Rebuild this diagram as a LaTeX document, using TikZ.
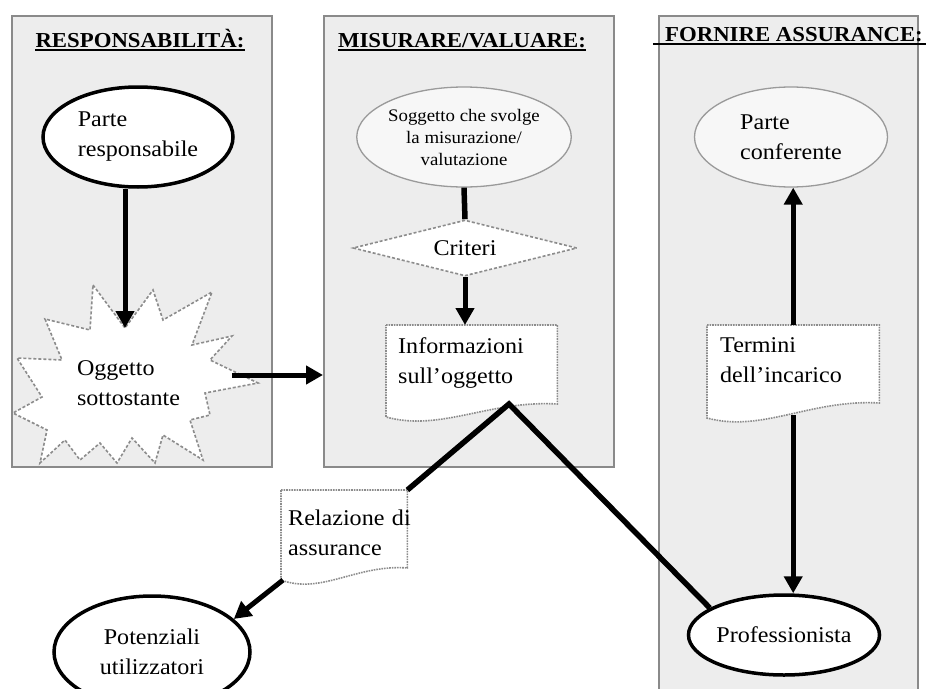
\documentclass[tikz,border=0pt]{standalone}
\usepackage{fontspec}
\setmainfont{Liberation Serif}[FakeStretch=1.07]
\usetikzlibrary{shapes.geometric,arrows.meta,calc}
\pgfdeclarelayer{panel}
\pgfdeclarelayer{under}
\pgfsetlayers{panel,under,main}
\definecolor{panelfill}{HTML}{EDEDED}
\definecolor{panelgray}{HTML}{8A8A8A}
\definecolor{ellgray}{HTML}{9A9A9A}
\definecolor{ellfill}{HTML}{F7F7F7}
\definecolor{dotgray}{HTML}{8C8C8C}
\newcommand{\docoutline}[4]{%
  \path[docline] (#1.north west) -- (#1.north east) -- ($(#1.north east)+(0,#4)$)
   .. controls ($(#1.north east)+(-0.4*#2,#4-4)$) and ($(#1.north west)+(0.32*#2,#3+15)$) .. ($(#1.north west)+(0,#3)$) -- cycle;}
\begin{document}
\begin{tikzpicture}[x=1pt,y=-1pt,
  panelbox/.style={rectangle, draw=panelgray, line width=1.6pt, fill=panelfill, inner sep=0pt, anchor=north west},
  title/.style={font=\fontsize{21.3}{24}\selectfont\bfseries, inner sep=0pt, anchor=base},
  ul/.style={line width=1.6pt},
  txt/.style={font=\fontsize{22.5}{30}\selectfont},
  blackell/.style={ellipse, draw=black, line width=3.5pt, fill=white, inner sep=0pt, txt, align=left},
  grayell/.style={ellipse, draw=ellgray, line width=1.3pt, fill=ellfill, inner sep=0pt},
  docnode/.style={txt, anchor=north west, align=left},
  docline/.style={draw=dotgray, line width=1.6pt, densely dotted, fill=white},
  starline/.style={draw=dotgray, line width=1.6pt, dash pattern=on 3pt off 2pt, fill=white},
  arr/.style={line width=5pt, -{Triangle[length=17pt,width=18pt]}},
  bar/.style={line width=5.5pt}
]
\useasboundingbox (0,0) rectangle (926,688);
% panels
\begin{pgfonlayer}{panel}
\node[panelbox, minimum width=260pt, minimum height=451pt] (p1) at (11,15) {};
\node[panelbox, minimum width=290pt, minimum height=451pt] (p2) at (323,15) {};
\node[panelbox, minimum width=259pt, minimum height=676pt] (p3) at (658,15) {};
\end{pgfonlayer}
% titles
\node[title] (t1) at (140,47) {RESPONSABILITÀ:};
\node[title] (t2) at (462,47) {MISURARE/VALUARE:};
\node[title] (t3) at (794,41) {FORNIRE ASSURANCE:};
\draw[ul] ($(t1.base west)+(0,3)$) -- ($(t1.base east)+(0,3)$);
\draw[ul] ($(t2.base west)+(0,3)$) -- ($(t2.base east)+(0,3)$);
\draw[ul] ($(t3.base west)+(-12,3)$) -- ($(t3.base east)+(8,3)$);
% ellipses
\node[blackell, minimum width=190pt, minimum height=100pt] (pr) at (138,137) {Parte\\responsabile};
\node[grayell, minimum width=192pt, minimum height=100pt, align=center, font=\fontsize{17.6}{22}\selectfont] (sog) at (464,137) {Soggetto che svolge\\la misurazione/\\valutazione};
\node[grayell, txt, align=left, minimum width=193pt, minimum height=100pt] (pc) at (791,137) {Parte\\conferente};
\node[blackell, align=center, minimum width=178pt, minimum height=80pt] (prof) at (784,635) {Professionista};
\node[blackell, align=center, minimum width=196pt, minimum height=112pt] (pot) at (152,652) {Potenziali\\utilizzatori};
% starburst
\node[txt, align=left, text width=106pt, inner xsep=49pt, inner ysep=2pt] (star) at (130,383) {Oggetto\\sottostante};
\coordinate (starTop) at (125,328);
\begin{pgfonlayer}{under}
\path[starline] (93,285) -- (starTop) -- (153,290) -- (163,320) -- (212,292) -- (192,345) -- (232,336) -- (210,360) -- (258,383) -- (205,393) -- (210,415) -- (190,420) -- (203,460) -- (163,435) -- (155,463) -- (132,438) -- (117,463) -- (100,443) -- (80,460) -- (65,440) -- (40,463) -- (47,430) -- (13,413) -- (42,397) -- (17,358) -- (62,360) -- (45,319) -- (90,330) -- cycle;
\end{pgfonlayer}
% diamond
\node[diamond, aspect=4, draw=dotgray, line width=1.6pt, dash pattern=on 3pt off 2pt, fill=white, inner sep=0pt, minimum width=224pt, minimum height=56pt, txt] (crit) at (465,248) {Criteri};
% documents
\node[docnode, text width=147pt, inner xsep=12pt, inner ysep=12.5pt] (info) at (386,325) {Informazioni\\sull’oggetto};
\node[docnode, text width=146pt, inner xsep=13pt, inner ysep=12.5pt] (term) at (707,325) {Termini\\dell’incarico};
\node[docnode, text width=112pt, inner xsep=7pt, inner ysep=19.5pt] (rel) at (281,490) {Relazione~di\\assurance};
\begin{pgfonlayer}{under}
\docoutline{info}{171}{92}{79}
\docoutline{term}{172}{93}{78}
\docoutline{rel}{126}{90}{78}
\end{pgfonlayer}
\coordinate (apex) at ($(info.north west)+(123,79)$);
\coordinate (termB) at ($(term.north)+(0,90)$);
\coordinate (relB) at ($(rel.north west)+(2,90)$);
% connectors
\draw[arr] (pr.south -| starTop) -- (starTop);
\draw[arr] ([yshift=8pt]star.east) -- ([yshift=8pt]star.east -| p2.west);
\draw[bar] (sog.south) -- (crit.north);
\draw[arr] (crit.south) -- (crit.south |- info.north);
\draw[arr] (term.north) -- (term.north |- pc.south);
\draw[arr] (termB) -- (termB |- prof.north);
\draw[bar] (rel.north east) -- (apex) -- (prof.160);
\draw[arr] (relB) -- (pot.22);
\end{tikzpicture}
\end{document}
